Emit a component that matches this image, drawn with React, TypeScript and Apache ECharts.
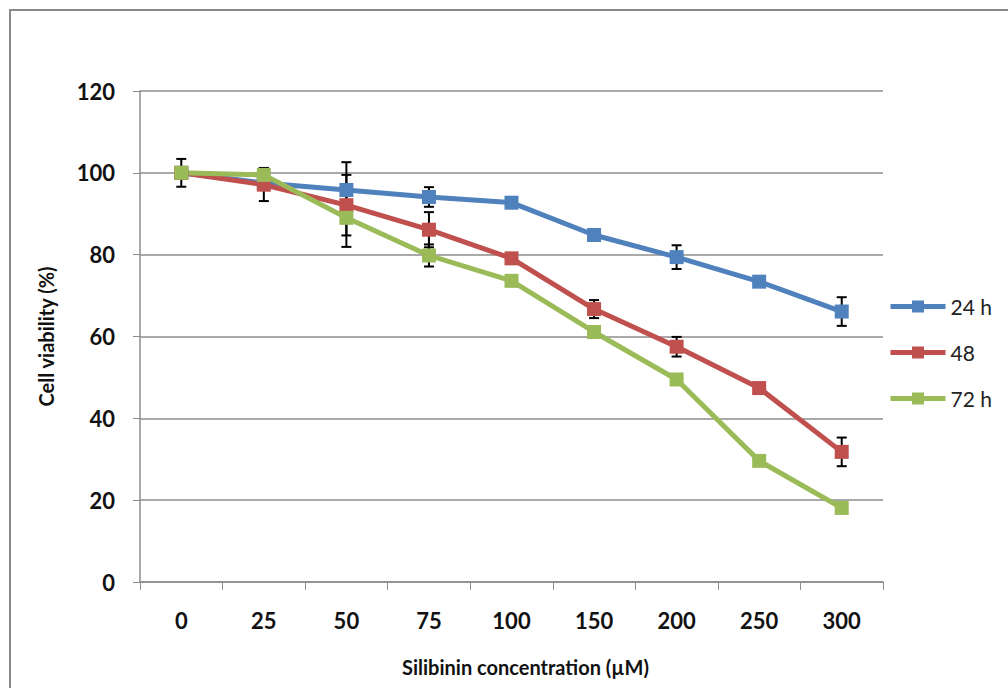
import React, { useEffect, useRef } from "react";
import * as echarts from "echarts";

const categories = ["0", "25", "50", "75", "100", "150", "200", "250", "300"];
const series24 = [100, 97.5, 95.8, 94.1, 92.7, 84.8, 79.4, 73.4, 66.1];
const series48 = [100, 97.1, 92.1, 86.1, 79.1, 66.7, 57.5, 47.4, 31.8];
const series72 = [100, 99.5, 89.0, 79.8, 73.6, 61.1, 49.5, 29.6, 18.1];
const err24 = [3.4, 0, 6.8, 2.4, 0, 0, 2.9, 0, 3.5];
const err48 = [0, 4.0, 7.4, 4.3, 1.1, 2.2, 2.4, 0, 3.5];
const err72 = [0, 1.7, 7.1, 2.7, 0, 0, 0, 0, 0];
const yTicks = [0, 20, 40, 60, 80, 100, 120];

const colors = ["#4F81BD", "#C0504D", "#9BBB59"];
const names = ["24 h", "48", "72 h"];
const FONT = "Lato, 'Open Sans', sans-serif";

function errData(vals: number[], errs: number[]) {
  const out: number[][] = [];
  vals.forEach((v, i) => {
    if (errs[i] > 0) out.push([i, v, errs[i]]);
  });
  return out;
}

export default function App() {
  const ref = useRef<HTMLDivElement>(null);
  useEffect(() => {
    if (!ref.current) return;
    const chart = echarts.init(ref.current, undefined, { renderer: "svg" });
    const renderErr = (params: any, api: any) => {
      const i = api.value(0);
      const v = api.value(1);
      const e = api.value(2);
      const top = api.coord([i, v + e]);
      const bot = api.coord([i, v - e]);
      const cap = 5;
      const style = { stroke: "#000", lineWidth: 2 };
      return {
        type: "group",
        children: [
          { type: "line", shape: { x1: top[0], y1: top[1], x2: bot[0], y2: bot[1] }, style },
          { type: "line", shape: { x1: top[0] - cap, y1: top[1], x2: top[0] + cap, y2: top[1] }, style },
          { type: "line", shape: { x1: bot[0] - cap, y1: bot[1], x2: bot[0] + cap, y2: bot[1] }, style },
        ],
      };
    };
    const lineSeries = [series24, series48, series72].map((d, k) => ({
      name: names[k],
      type: "line",
      data: d,
      symbol: "rect",
      symbolSize: 14,
      lineStyle: { width: 5, color: colors[k] },
      itemStyle: { color: colors[k] },
      z: 3,
    }));
    const errSeries = [
      [series24, err24],
      [series48, err48],
      [series72, err72],
    ].map(([v, e]) => ({
      type: "custom",
      renderItem: renderErr,
      data: errData(v as number[], e as number[]),
      z: 2,
      silent: true,
    }));
    chart.setOption({
      animation: false,
      backgroundColor: "#fff",
      textStyle: { fontFamily: FONT },
      grid: { left: 140, top: 91, right: 125, bottom: 106 },
      graphic: [
        {
          type: "rect",
          shape: { x: 10, y: 10, width: 1200, height: 900 },
          style: { fill: "none", stroke: "#8a8a8a", lineWidth: 2 },
          silent: true,
        },
      ],
      legend: {
        orient: "vertical",
        left: 888,
        top: 296,
        padding: 0,
        itemWidth: 55,
        itemHeight: 15,
        itemGap: 25,
        data: names,
        lineStyle: { width: 5 },
        textStyle: { fontFamily: FONT, fontSize: 21, color: "#222", padding: [0, 0, 0, 0] },
      },
      xAxis: {
        type: "category",
        data: categories,
        boundaryGap: true,
        name: "Silibinin concentration (µM)",
        nameLocation: "middle",
        nameGap: 75,
        nameTextStyle: {
          fontFamily: FONT,
          fontSize: 20,
          fontWeight: "bold",
          color: "#111",
          padding: [0, 0, 0, 28],
        },
        axisLine: { lineStyle: { color: "#8c8c8c", width: 1.5 } },
        axisTick: { show: true, length: 8, alignWithLabel: false, lineStyle: { color: "#8c8c8c" } },
        axisLabel: { fontFamily: FONT, fontSize: 22, fontWeight: "bold", color: "#111", margin: 27 },
        splitLine: { show: false },
      },
      yAxis: {
        type: "value",
        min: 0,
        max: 120,
        interval: 20,
        name: "Cell viability (%)",
        nameLocation: "middle",
        nameGap: 84,
        nameTextStyle: { fontFamily: FONT, fontSize: 20, fontWeight: "bold", color: "#111" },
        axisLine: { show: true, lineStyle: { color: "#8c8c8c", width: 1.5 } },
        axisTick: { show: true, length: 7, lineStyle: { color: "#8c8c8c" } },
        axisLabel: {
          fontFamily: FONT,
          fontSize: 22,
          fontWeight: "bold",
          color: "#111",
          margin: 25,
          formatter: (v: number) => (yTicks.includes(v) ? String(v) : ""),
        },
        splitLine: { show: true, lineStyle: { color: "#8c8c8c", width: 1.5 } },
      },
      series: [...errSeries, ...lineSeries],
    });
    return () => chart.dispose();
  }, []);
  return (
    <div
      ref={ref}
      style={{ position: "fixed", left: 0, top: 0, width: 1008, height: 688 }}
    />
  );
}
